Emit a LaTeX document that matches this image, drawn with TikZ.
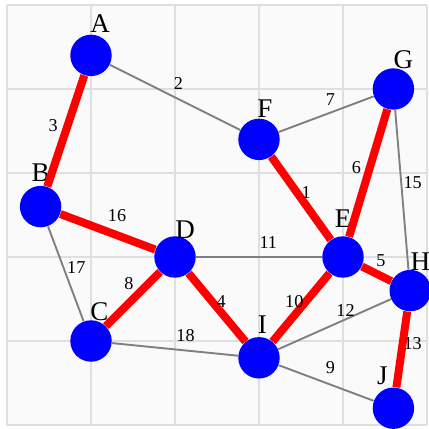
\documentclass[tikz,border=0pt]{standalone}
\usepackage{fontspec}
\setmainfont{Liberation Serif}
\usetikzlibrary{positioning}

\begin{document}
\begin{tikzpicture}[x=1.4cm, y=1.4cm,
    vtx/.style={circle, fill=blue, minimum size=0.69cm, inner sep=0pt},
    lab/.style={font=\fontsize{12.8}{14}\selectfont, inner sep=0pt},
    wt/.style={black, font=\fontsize{8.6}{10}\selectfont, inner sep=0pt},
    tree/.style={red, line width=3.8pt},
    plain/.style={gray, line width=0.9pt}]
        \useasboundingbox (-0.0833,-0.0357) rectangle (5.0238,5.0595);
        % Grid
        \fill[gray!4] (0,0) rectangle (5,5);
        \draw[gray!25, line width=0.7pt, step=1.4cm] (0,0) grid (5,5);
        % Vertices
        \node[vtx, label={[lab, shift={(0.11,0.38)}]center:A}] (A) at (1,4.4) {};
        \node[vtx, label={[lab, shift={(0,0.40)}]center:B}] (B) at (0.4,2.6) {};
        \node[vtx, label={[lab, shift={(0.10,0.35)}]center:C}] (C) at (1,1) {};
        \node[vtx, label={[lab, shift={(0.12,0.33)}]center:D}] (D) at (2,2) {};
        \node[vtx, label={[lab, shift={(0,0.46)}]center:E}] (E) at (4,2) {};
        \node[vtx, label={[lab, shift={(0.07,0.37)}]center:F}] (F) at (3,3.4) {};
        \node[vtx, label={[lab, shift={(0.12,0.35)}]center:G}] (G) at (4.6,4) {};
        \node[vtx, label={[lab, shift={(0.12,0.35)}]center:H}] (H) at (4.8,1.6) {};
        \node[vtx, label={[lab, shift={(0.04,0.40)}]center:I}] (I) at (3,0.8) {};
        \node[vtx, label={[lab, shift={(-0.13,0.38)}]center:J}] (J) at (4.6,0.2) {};

        % Other edges
        \draw[plain] (A) -- node[wt, shift={(0.04,0.17)}] {2} (F);
        \draw[plain] (F) -- node[wt, shift={(0.05,0.17)}] {7} (G);
        \draw[plain] (G) -- node[wt, shift={(0.13,0.08)}] {15} (H);
        \draw[plain] (B) -- node[wt, shift={(0.125,0.08)}] {17} (C);
        \draw[plain] (D) -- node[wt, shift={(0.11,0.17)}] {11} (E);
        \draw[plain] (C) -- node[wt, shift={(0.125,0.16)}] {18} (I);
        \draw[plain] (I) -- node[wt, shift={(0.13,0.16)}] {12} (H);
        \draw[plain] (I) -- node[wt, shift={(0.05,0.18)}] {9} (J);
        % Spanning tree
        \draw[tree] (A) -- node[wt, shift={(-0.15,0.07)}] {3} (B);
        \draw[tree] (F) -- node[wt, shift={(0.06,0.07)}] {1} (E);
        \draw[tree] (G) -- node[wt, shift={(-0.14,0.07)}] {6} (E);
        \draw[tree] (B) -- node[wt, shift={(0.11,0.19)}] {16} (D);
        \draw[tree] (C) -- node[wt, shift={(-0.05,0.18)}] {8} (D);
        \draw[tree] (D) -- node[wt, shift={(0.05,0.07)}] {4} (I);
        \draw[tree] (E) -- node[wt, shift={(-0.08,0.07)}] {10} (I);
        \draw[tree] (E) -- node[wt, shift={(0.05,0.155)}] {5} (H);
        \draw[tree] (H) -- node[wt, shift={(0.13,0.07)}] {13} (J);
\end{tikzpicture}
\end{document}
